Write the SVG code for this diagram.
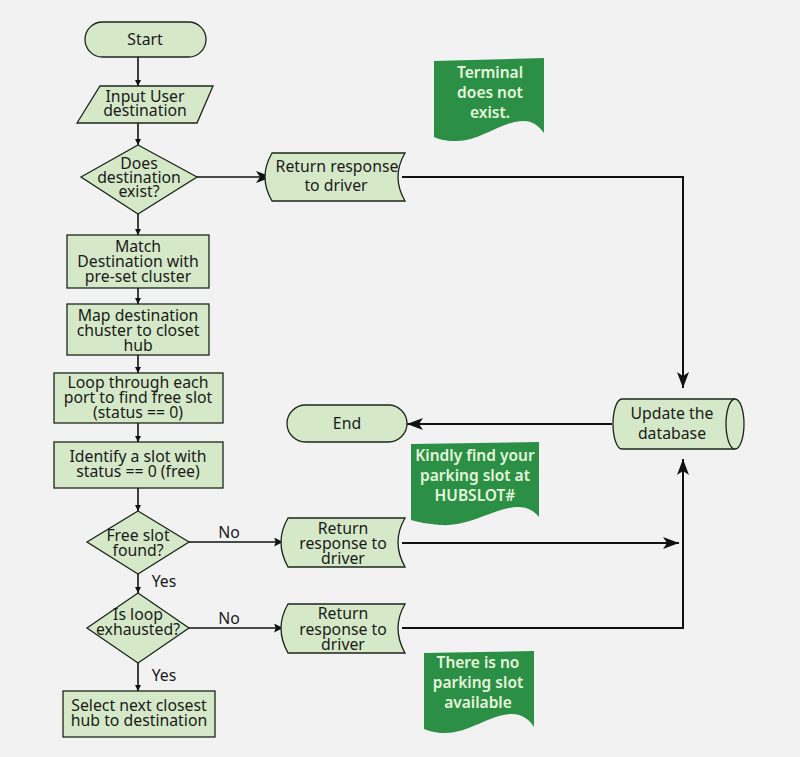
<svg xmlns="http://www.w3.org/2000/svg" width="800" height="757" viewBox="0 0 800 757">
<defs>
<style>
.n{fill:#d5e9c9;stroke:#1c261c;stroke-width:1.3}
.t{font-family:"Noto Sans","Open Sans",sans-serif;font-size:15.8px;fill:#1a1a1a;text-anchor:middle}
.g{fill:#2b9046}
.gt{font-family:"Noto Sans","Open Sans",sans-serif;font-size:15.5px;font-weight:600;fill:#e6f6dc;text-anchor:middle}
.c{fill:none;stroke:#111;stroke-width:1.6}
.c2{fill:none;stroke:#111;stroke-width:2}
</style>
<marker id="s" viewBox="0 0 10 10" refX="10" refY="5" markerWidth="6" markerHeight="6" markerUnits="userSpaceOnUse" orient="auto"><path d="M0,0 L10,5 L0,10 Z" fill="#111"/></marker>
<marker id="b" viewBox="0 0 16 12" refX="16" refY="6" markerWidth="16" markerHeight="12" markerUnits="userSpaceOnUse" orient="auto"><path d="M0,0 L16,6 L0,12 L4,6 Z" fill="#111"/></marker>
<marker id="m" viewBox="0 0 10 10" refX="10" refY="5" markerWidth="9" markerHeight="9" markerUnits="userSpaceOnUse" orient="auto"><path d="M0,0 L10,5 L0,10 L2,5 Z" fill="#111"/></marker>
</defs>
<rect width="800" height="757" fill="#f2f2f2"/>

<g id="connectors">
<path class="c" d="M138,57 V86" marker-end="url(#s)"/>
<path class="c" d="M138,123 V145" marker-end="url(#s)"/>
<path class="c" d="M197,177 H272" marker-end="url(#b)"/>
<path class="c2" d="M402,177 H683 V388" marker-end="url(#b)"/>
<path class="c2" d="M612,424 H407" marker-end="url(#b)"/>
<path class="c" d="M138,214 V235" marker-end="url(#s)"/>
<path class="c" d="M138,288 V304" marker-end="url(#s)"/>
<path class="c" d="M138,355 V373" marker-end="url(#s)"/>
<path class="c" d="M138,423 V442" marker-end="url(#s)"/>
<path class="c" d="M138,488 V511" marker-end="url(#s)"/>
<path class="c" d="M189,542 H283" marker-end="url(#m)"/>
<path class="c2" d="M402,543 H679" marker-end="url(#b)"/>
<path class="c" d="M138,574 V593" marker-end="url(#s)"/>
<path class="c" d="M189,628 H283" marker-end="url(#m)"/>
<path class="c2" d="M402,628 H683 V459" marker-end="url(#b)"/>
<path class="c" d="M138,663 V691" marker-end="url(#s)"/>
<text class="t" x="229" y="538">No</text>
<text class="t" x="229" y="624">No</text>
<text class="t" x="164" y="587">Yes</text>
<text class="t" x="164" y="681">Yes</text>
</g>

<g id="start"><rect class="n" x="85" y="22" width="121" height="35" rx="17.5"/><text class="t" x="145" y="45">Start</text></g>

<g id="input"><path class="n" d="M100,86 H213 L197,123 H77 Z"/><text class="t" x="145" y="102">Input User</text><text class="t" x="145" y="116">destination</text></g>

<g id="exists"><path class="n" d="M138,145 L197,177 L138,214 L81,177 Z"/><text class="t" x="139" y="169">Does</text><text class="t" x="139" y="183">destination</text><text class="t" x="139" y="197">exist?</text></g>

<g id="return1"><path class="n" d="M272,153 H405 Q391,177 405,201 H272 Q258,177 272,153 Z"/><text class="t" x="337" y="172">Return response</text><text class="t" x="336" y="191">to driver</text></g>

<g id="note1"><path class="g" d="M434,61 L544,58 L544,133 C538,125 532,121 524,121 C500,121 480,142 455,141 C445,141 438,139 434,137 Z"/><text class="gt" x="490" y="78">Terminal</text><text class="gt" x="490" y="98">does not</text><text class="gt" x="490" y="118">exist.</text></g>

<g id="database"><path class="n" d="M622,399 H735 A9,25 0 0 1 735,449 H622 A9,25 0 0 1 622,399 Z"/><path class="n" d="M735,399 A9,25 0 0 0 735,449" fill="none"/><text class="t" x="672" y="419">Update the</text><text class="t" x="672" y="439">database</text></g>

<g id="end"><rect class="n" x="287" y="405" width="120" height="37" rx="18.5"/><text class="t" x="347" y="429">End</text></g>

<g id="note2"><path class="g" d="M411,444 L539,442 L539,517 C534,511 528,507 518,507 C496,507 470,527 440,525 C428,524 418,522 411,520 Z"/><text class="gt" x="475" y="461">Kindly find your</text><text class="gt" x="475" y="481">parking slot at</text><text class="gt" x="475" y="501">HUBSLOT#</text></g>

<g id="match"><rect class="n" x="67" y="235" width="142" height="53"/><text class="t" x="138" y="252">Match</text><text class="t" x="138" y="267">Destination with</text><text class="t" x="138" y="282">pre-set cluster</text></g>

<g id="map"><rect class="n" x="67" y="304" width="142" height="51"/><text class="t" x="138" y="321">Map destination</text><text class="t" x="138" y="336">chuster to closet</text><text class="t" x="138" y="351">hub</text></g>

<g id="loop"><rect class="n" x="54" y="373" width="169" height="50"/><text class="t" x="138" y="388">Loop through each</text><text class="t" x="138" y="403">port to find free slot</text><text class="t" x="138" y="418">(status == 0)</text></g>

<g id="identify"><rect class="n" x="54" y="442" width="169" height="46"/><text class="t" x="138" y="462">Identify a slot with</text><text class="t" x="138" y="477">status == 0 (free)</text></g>

<g id="freeslot"><path class="n" d="M138,511 L189,542 L138,574 L87,542 Z"/><text class="t" x="138" y="541">Free slot</text><text class="t" x="138" y="556">found?</text></g>

<g id="return2"><path class="n" d="M288,518 H405 Q391,542 405,567 H288 Q274,542 288,518 Z"/><text class="t" x="343" y="534">Return</text><text class="t" x="343" y="549">response to</text><text class="t" x="343" y="564">driver</text></g>

<g id="exhausted"><path class="n" d="M138,593 L189,628 L138,663 L87,628 Z"/><text class="t" x="138" y="620">Is loop</text><text class="t" x="138" y="635">exhausted?</text></g>

<g id="return3"><path class="n" d="M288,604 H405 Q391,628 405,653 H288 Q274,628 288,604 Z"/><text class="t" x="343" y="619">Return</text><text class="t" x="343" y="635">response to</text><text class="t" x="343" y="650">driver</text></g>

<g id="note3"><path class="g" d="M424,653 L534,651 L534,727 C530,720 522,714 512,714 C490,714 470,733 445,733 C436,733 429,731 424,729 Z"/><text class="gt" x="478" y="668">There is no</text><text class="gt" x="478" y="688">parking slot</text><text class="gt" x="478" y="708">available</text></g>

<g id="select"><rect class="n" x="63" y="691" width="152" height="46"/><text class="t" x="139" y="711">Select next closest</text><text class="t" x="139" y="726">hub to destination</text></g>
</svg>
